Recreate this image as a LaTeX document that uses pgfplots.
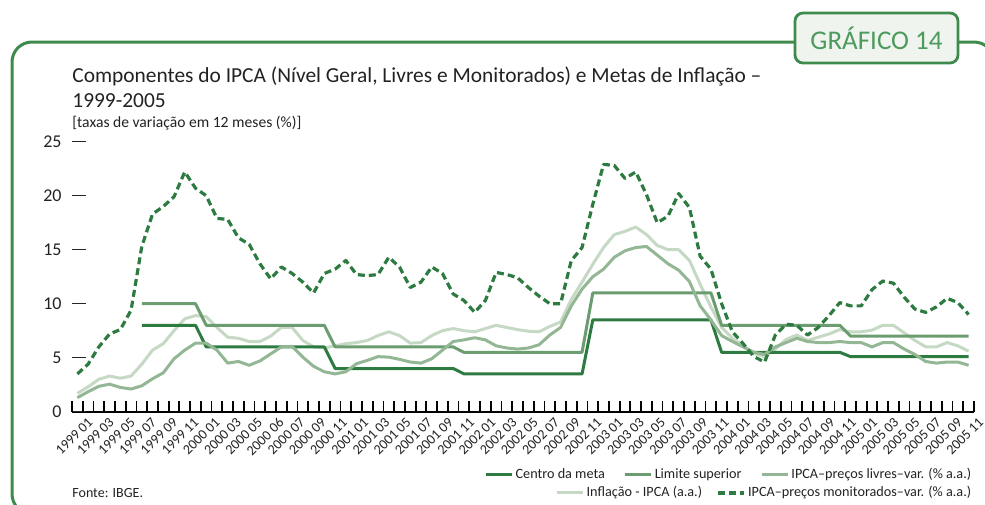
\documentclass[border=0pt]{standalone}
\usepackage{pgfplots}
\pgfplotsset{compat=1.18}
\usepackage{pgfplotstable}
\usepackage{fontspec}
\setmainfont{Carlito}

\definecolor{framegreen}{HTML}{3F8B4E}
\definecolor{gtxt}{HTML}{4C9A5C}
\definecolor{boxfill}{HTML}{F0F4EF}
\definecolor{centrocol}{HTML}{2E7B42}
\definecolor{limitecol}{HTML}{6B9D70}
\definecolor{livrescol}{HTML}{93B794}
\definecolor{inflcol}{HTML}{C6D9C4}
\definecolor{monitcol}{HTML}{2E7B42}
\definecolor{txt}{HTML}{222222}

\pgfplotstableread{
i infl livres monit
0 1.7 1.3 3.5
1 2.3 1.85 4.4
2 3.0 2.35 6.0
3 3.3 2.55 7.2
4 3.1 2.25 7.6
5 3.3 2.1 9.4
6 4.4 2.4 15.3
7 5.7 3.05 18.3
8 6.3 3.6 19.0
9 7.5 4.9 19.9
10 8.6 5.7 22.2
11 8.9 6.35 20.7
12 8.8 6.35 20.0
13 7.8 5.7 17.9
14 6.9 4.5 17.8
15 6.8 4.65 16.1
16 6.5 4.3 15.5
17 6.5 4.7 13.7
18 7.0 5.35 12.3
19 7.8 6.0 13.4
20 7.8 6.05 12.8
21 6.6 5.05 12.0
22 6.0 4.2 11.0
23 5.9 3.7 12.8
24 6.1 3.5 13.2
25 6.3 3.7 14.0
26 6.4 4.45 12.7
27 6.6 4.75 12.6
28 7.05 5.1 12.7
29 7.4 5.05 14.3
30 7.05 4.85 13.4
31 6.35 4.6 11.5
32 6.4 4.5 12.0
33 7.05 4.9 13.4
34 7.5 5.7 12.8
35 7.7 6.5 10.9
36 7.5 6.65 10.3
37 7.4 6.85 9.2
38 7.7 6.65 10.3
39 8.0 6.1 12.9
40 7.8 5.9 12.7
41 7.6 5.8 12.4
42 7.45 5.9 11.5
43 7.4 6.2 10.7
44 7.9 7.1 10.0
45 8.3 7.8 10.0
46 10.4 9.8 14.0
47 12.0 11.35 15.2
48 13.65 12.5 19.2
49 15.2 13.2 22.9
50 16.4 14.3 22.8
51 16.7 14.9 21.6
52 17.1 15.2 22.2
53 16.4 15.3 20.1
54 15.4 14.5 17.5
55 15.0 13.7 18.1
56 15.0 13.1 20.2
57 14.0 12.05 18.9
58 11.8 9.8 14.4
59 9.7 8.5 13.2
60 7.8 7.05 10.0
61 6.8 6.5 7.4
62 6.1 6.0 6.3
63 5.4 5.5 5.1
64 5.1 5.3 4.6
65 5.8 6.0 7.1
66 6.7 6.4 8.1
67 7.1 6.8 8.0
68 6.6 6.5 7.1
69 6.9 6.4 7.8
70 7.2 6.4 8.9
71 7.6 6.5 10.1
72 7.4 6.4 9.8
73 7.4 6.4 9.8
74 7.55 6.0 11.3
75 8.0 6.4 12.1
76 8.0 6.4 11.9
77 7.3 5.8 10.6
78 6.6 5.3 9.5
79 6.0 4.65 9.2
80 6.0 4.5 9.7
81 6.4 4.6 10.5
82 6.1 4.6 10.1
83 5.6 4.3 9.0
}\ipca

\begin{document}
\begin{tikzpicture}
\useasboundingbox (0,0) rectangle (492.5pt,-252pt);
\begin{scope}
\clip (0,0) rectangle (492.5pt,-252pt);
\draw[framegreen, line width=1.5pt, rounded corners=10pt] (6pt,-21pt) rectangle (497pt,-257pt);
\end{scope}
\node[draw=framegreen, line width=1.4pt, fill=boxfill, rounded corners=4pt, minimum width=81.5pt, minimum height=25pt, inner sep=0pt, font=\fontsize{13.5}{14}\selectfont, text=gtxt] at (438.25pt,-19pt) {GRÁFICO 14};
\node[anchor=base west, inner sep=0pt, font=\fontsize{10.7}{12}\selectfont, text=txt] at (36pt,-41pt) {Componentes do IPCA (Nível Geral, Livres e Monitorados) e Metas de Inflação –};
\node[anchor=base west, inner sep=0pt, font=\fontsize{10.7}{12}\selectfont, text=txt] at (36pt,-53.5pt) {1999-2005};
\node[anchor=base west, inner sep=0pt, font=\fontsize{7.8}{8}\selectfont, text=txt] at (36pt,-63.5pt) {[taxas de variação em 12 meses (\%)]};
\node[anchor=base west, inner sep=0pt, font=\fontsize{7}{8}\selectfont, text=txt] at (36pt,-248.5pt) {Fonte: IBGE.};

% data axis, with the category boundary ticks
\begin{axis}[
  at={(36pt,-205.85pt)}, anchor=south west,
  width=451pt, height=135pt, scale only axis,
  xmin=-0.5, xmax=83.5, ymin=0, ymax=25,
  axis x line*=bottom, axis y line=none,
  x axis line style={black, line width=1pt},
  tick align=inside,
  major tick length=5.5pt,
  xtick={-0.5,0.5,...,83.5}, xticklabels={},
  xtick style={black, line width=0.9pt},
  legend columns=3,
  legend image code/.code={\draw[#1] (0pt,0pt) -- (13pt,0pt);},
  legend style={at={(axis description cs:1,-0.234)}, anchor=east, draw=none, fill=none, inner sep=0pt,
    font=\fontsize{7.1}{8}\selectfont, text=txt,
    /tikz/every even column/.append style={column sep=8pt},
    nodes={inner sep=1.2pt}},
  legend cell align=left,
  line join=round,
]
\addplot[inflcol, line width=1.5pt, forget plot] table[x=i, y=infl] {\ipca};
\addplot[centrocol, line width=1.5pt] coordinates {(6,8) (11,8) (12,6) (23,6) (24,4) (35,4) (36,3.5) (47,3.5) (48,8.5) (59,8.5) (60,5.5) (71,5.5) (72,5.1) (83,5.1)};
\addlegendentry{Centro da meta}
\addplot[limitecol, line width=1.5pt] coordinates {(6,10) (11,10) (12,8) (23,8) (24,6) (35,6) (36,5.5) (47,5.5) (48,11) (59,11) (60,8) (71,8) (72,7) (83,7)};
\addlegendentry{Limite superior}
\addplot[livrescol, line width=1.5pt] table[x=i, y=livres] {\ipca};
\addlegendentry{IPCA–preços livres–var. (\% a.a.)}
\addplot[monitcol, line width=1.6pt, dash pattern=on 3.5pt off 2pt, forget plot] table[x=i, y=monit] {\ipca};
\end{axis}

% overlay axis: tick labels, y dashes, second legend row
\begin{axis}[
  at={(36pt,-205.85pt)}, anchor=south west,
  width=451pt, height=135pt, scale only axis,
  xmin=-0.5, xmax=83.5, ymin=0, ymax=25,
  axis x line*=bottom, axis y line*=left,
  x axis line style={draw=none},
  y axis line style={draw=none},
  /pgf/number format/assume math mode=true,
  tick align=inside,
  major tick length=7pt,
  ytick={0,5,10,15,20,25},
  ytick style={black!85, line width=0.7pt},
  yticklabel style={anchor=east, inner sep=0pt, xshift=-5pt, font=\fontsize{9}{10}\selectfont, text=txt},
  xtick={0.44,2.41,4.39,6.36,8.34,10.31,12.29,14.26,16.24,18.21,20.19,22.16,24.14,26.11,28.09,30.06,32.04,34.01,35.99,37.96,39.94,41.91,43.89,45.86,47.84,49.81,51.79,53.76,55.74,57.71,59.69,61.66,63.64,65.61,67.59,69.56,71.54,73.51,75.49,77.46,79.44,81.41,83.39},
  xticklabels={1999 01,1999 03,1999 05,1999 07,1999 09,1999 11,2000 01,2000 03,2000 05,2000 06,2000 07,2000 09,2000 11,2001 01,2001 03,2001 05,2001 07,2001 09,2001 11,2002 01,2002 03,2002 05,2002 07,2002 09,2002 11,2003 01,2003 03,2003 05,2003 07,2003 09,2003 11,2004 01,2004 03,2004 05,2004 07,2004 09,2004 11,2005 01,2005 03,2005 05,2005 07,2005 09,2005 11},
  xtick style={draw=none},
  xticklabel style={rotate=45, anchor=north east, inner sep=0pt, yshift=-3.5pt, font=\fontsize{7}{8}\selectfont, text=txt},
  legend columns=2,
  legend image code/.code={\draw[#1] (0pt,0pt) -- (13pt,0pt);},
  legend style={at={(axis description cs:1,-0.301)}, anchor=east, draw=none, fill=none, inner sep=0pt,
    font=\fontsize{7.1}{8}\selectfont, text=txt,
    /tikz/every even column/.append style={column sep=6pt},
    nodes={inner sep=1.2pt}},
  legend cell align=left,
]
\addlegendimage{inflcol, line width=1.5pt}
\addlegendentry{Inflação - IPCA (a.a.)}
\addlegendimage{monitcol, line width=1.6pt, dash pattern=on 3.5pt off 2pt}
\addlegendentry{IPCA–preços monitorados–var. (\% a.a.)}
\end{axis}

% thin strip axis: the same boundary marks as short grid lines
\begin{axis}[
  at={(36pt,-205.85pt)}, anchor=south west,
  width=451pt, height=5.5pt, scale only axis,
  xmin=-0.5, xmax=83.5, ymin=0, ymax=1,
  axis line style={draw=none},
  major tick length=0pt,
  xtick={-0.5,0.5,...,83.5}, xticklabels={},
  ytick=\empty,
  xmajorgrids=true,
  major grid style={black, line width=0.9pt},
]
\end{axis}
\end{tikzpicture}
\end{document}
